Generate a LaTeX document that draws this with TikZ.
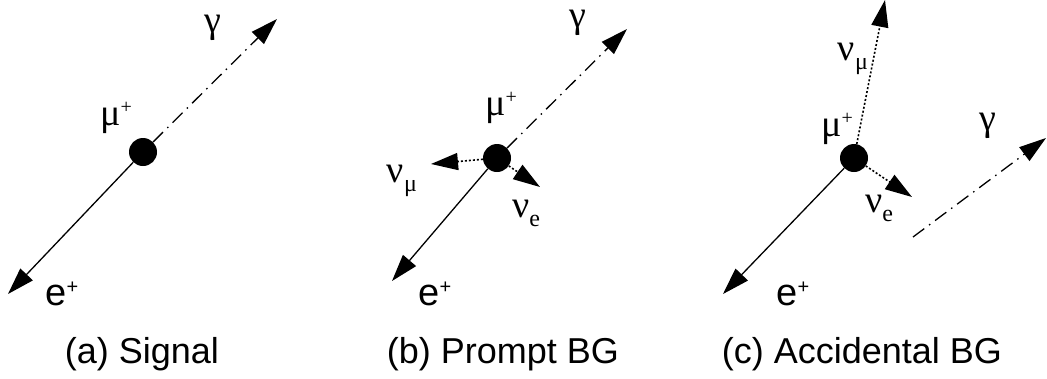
\documentclass[tikz,border=0pt]{standalone}
\usepackage{fontspec}
\setmainfont{Liberation Sans}
\newfontfamily\grk{Liberation Serif}
\usetikzlibrary{arrows.meta}
\newcommand\mysup[1]{\raisebox{0.3em}{\fontsize{20}{20}\selectfont #1}}
\newcommand\mysub[1]{\raisebox{-0.25em}{\fontsize{24}{24}\selectfont #1}}
\tikzset{
  mudot/.style={circle,fill=black,inner sep=0pt,minimum size=28pt},
  lbl/.style={inner sep=0pt,anchor=base,font=\fontsize{38}{40}\selectfont},
  gamlbl/.style={lbl,text height=17pt,text depth=8pt},
  captxt/.style={inner sep=0pt,anchor=base,font=\fontsize{36}{40}\selectfont},
  arrtip/.style={-{Triangle[length=27pt,width=17pt]}},
  epos/.style={arrtip,line width=1.3pt},
  gam/.style={arrtip,line width=1.3pt,dash pattern=on 14pt off 6pt on 1.5pt off 6pt},
  nuline/.style={arrtip,line width=1.6pt,dash pattern=on 2pt off 2pt}
}
\begin{document}
\begin{tikzpicture}[x=1pt,y=-1pt]
\useasboundingbox[fill=white] (0,0) rectangle (1047,378);
% (a)
\node[mudot] (muA) at (143,152) {};
\coordinate (eA) at (8,294);
\coordinate (gA) at (277,19);
\draw[epos] (muA) -- (eA);
\draw[gam] (muA) -- (gA);
\node[gamlbl] (lgA) at (213,32) {\grk γ};
\node[lbl] (lmA) at (116,125) {\grk μ\mysup{+}};
\node[lbl] (leA) at (62,305) {e\mysup{+}};
\node[captxt] (capA) at (142,363) {(a) Signal};
% (b)
\node[mudot] (muB) at (497,158) {};
\coordinate (eB) at (392,281);
\coordinate (gB) at (627,29);
\coordinate (nmB) at (431,164);
\coordinate (neB) at (540,187);
\draw[epos] (muB) -- (eB);
\draw[gam] (muB) -- (gB);
\draw[nuline] (muB) -- (nmB);
\draw[nuline] (muB) -- (neB);
\node[gamlbl] (lgB) at (578,27) {\grk γ};
\node[lbl] (lmB) at (501,115) {\grk μ\mysup{+}};
\node[lbl] (lnmB) at (402,182) {\grk ν\mysub{\grk μ}};
\node[lbl] (lneB) at (526,217) {\grk ν\mysub{e}};
\node[lbl] (leB) at (435,305) {e\mysup{+}};
\node[captxt] (capB) at (503,363) {(b) Prompt BG};
% (c)
\node[mudot] (muC) at (854,158) {};
\coordinate (eC) at (723,294);
\coordinate (nmC) at (885,0);
\coordinate (neC) at (912,197);
\coordinate (gC0) at (913,237);
\coordinate (gC1) at (1046,138);
\draw[epos] (muC) -- (eC);
\draw[nuline] (muC) -- (nmC);
\draw[nuline] (muC) -- (neC);
\draw[gam] (gC0) -- (gC1);
\node[gamlbl] (lgC) at (988,130) {\grk γ};
\node[lbl] (lmC) at (837,136) {\grk μ\mysup{+}};
\node[lbl] (lnmC) at (853,60) {\grk ν\mysub{\grk μ}};
\node[lbl] (lneC) at (879,212) {\grk ν\mysub{e}};
\node[lbl] (leC) at (793,305) {e\mysup{+}};
\node[captxt] (capC) at (862,363) {(c) Accidental BG};
\end{tikzpicture}
\end{document}
